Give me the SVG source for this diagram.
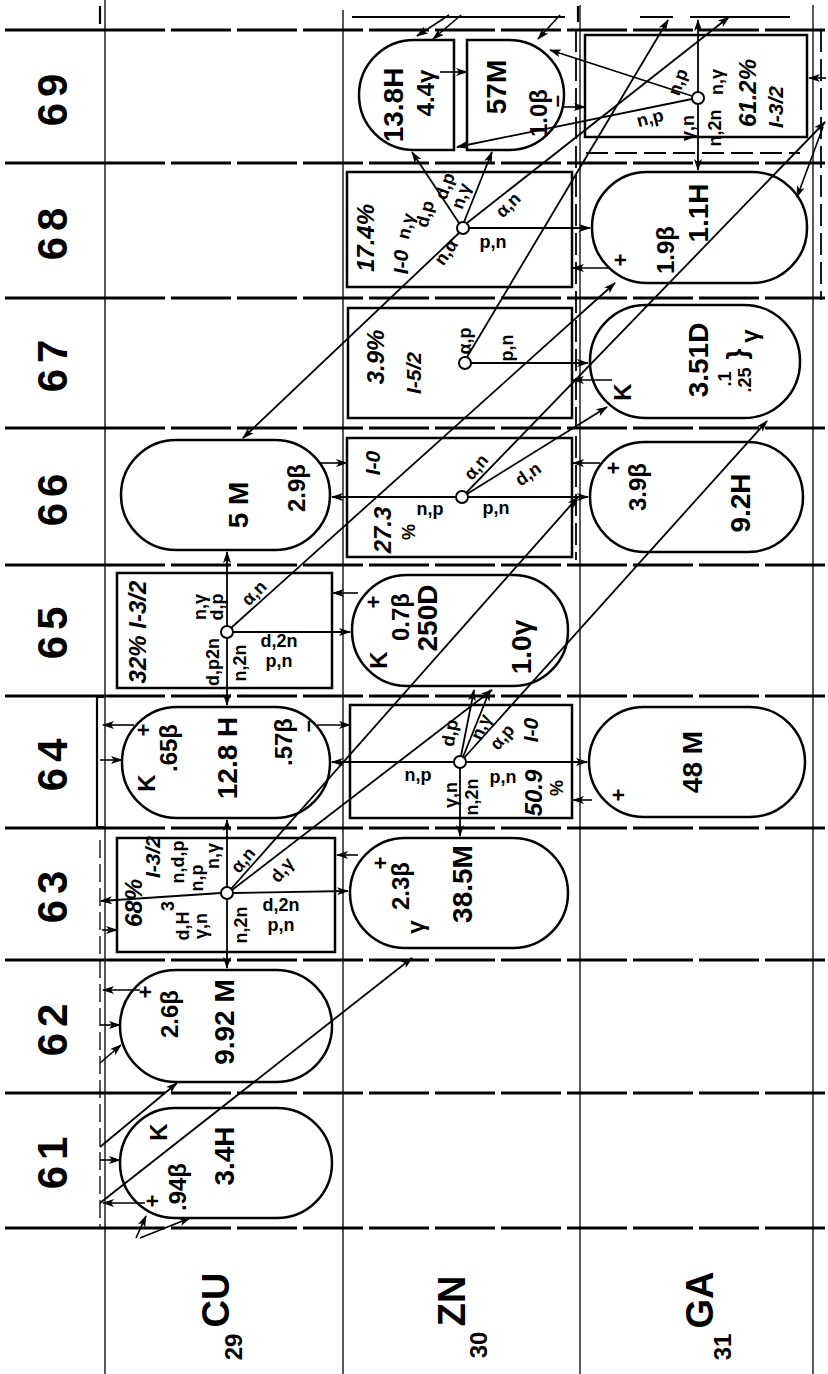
<svg xmlns="http://www.w3.org/2000/svg" width="828" height="1374" viewBox="0 0 828 1374">
<style>
text{font-family:"Liberation Sans",Arial,sans-serif;font-weight:bold;text-anchor:middle;dominant-baseline:central;fill:#000}
.m{font-size:42px;letter-spacing:6px}
.e{font-size:38px}
.z{font-size:24px}
.h{font-size:28px}
.b{font-size:24px}
.i{font-size:24px;font-style:italic}
.ii{font-size:21px;font-style:italic}
.r{font-size:18px}
.p{font-size:22px}
.row{stroke:#000;stroke-width:3;fill:none}
.rowd{stroke:#000;stroke-width:3;fill:none;stroke-dasharray:60 6}
.col{stroke:#000;stroke-width:1.3;fill:none}
.nuc{fill:none;stroke:#000;stroke-width:2.5}
.box{fill:none;stroke:#000;stroke-width:2.5}
.con{fill:none;stroke:#000;stroke-width:1.8;marker-end:url(#ah)}
.dec{fill:none;stroke:#000;stroke-width:1.6;marker-end:url(#ah)}
.pt{fill:#fff;stroke:#000;stroke-width:2}
.ln{fill:none;stroke:#000;stroke-width:2.2}
.dl{fill:none;stroke:#000;stroke-width:1.8;stroke-dasharray:22 7}
</style>
<defs>
<marker id="ah" viewBox="0 0 12 8" refX="11" refY="4" markerWidth="12" markerHeight="8" markerUnits="userSpaceOnUse" orient="auto"><path d="M0,0 L12,4 L0,8 L3,4 z" fill="#000"/></marker>
</defs>
<rect width="828" height="1374" fill="#fff"/>

<g id="grid">
<line class="col" x1="105" y1="0" x2="105" y2="1374"/>
<line class="col" x1="343" y1="10" x2="343" y2="1374"/>
<line class="col" x1="580" y1="5" x2="580" y2="1374"/>
<line class="col" x1="813" y1="5" x2="813" y2="1374"/>
<path class="row" d="M5,30H105M5,163H105M5,298H105M5,428H105M5,565H105M5,696H105M5,828H105M5,960H105M5,1093H105M5,1228H105"/>
<path class="rowd" d="M105,30H828M105,163H828M105,298H828M105,428H828M105,565H828M105,696H828M105,828H828M105,960H828M105,1093H828M105,1228H828"/>
<line class="col" x1="100" y1="840" x2="100" y2="1228" stroke-dasharray="18 6"/>
<path class="dl" d="M576,30V560M821,30V300M586,153H800"/>
<path class="ln" d="M104,697H97V827H104"/>
<path class="ln" d="M352,17H565M578,6V22M100,6V24M640,17H673M690,17H790"/>
</g>

<g id="labels">
<text class="m" x="52" y="97" transform="rotate(-90 52 97)">69</text>
<text class="m" x="52" y="231" transform="rotate(-90 52 231)">68</text>
<text class="m" x="52" y="363" transform="rotate(-90 52 363)">67</text>
<text class="m" x="52" y="497" transform="rotate(-90 52 497)">66</text>
<text class="m" x="52" y="630" transform="rotate(-90 52 630)">65</text>
<text class="m" x="52" y="762" transform="rotate(-90 52 762)">64</text>
<text class="m" x="52" y="894" transform="rotate(-90 52 894)">63</text>
<text class="m" x="52" y="1027" transform="rotate(-90 52 1027)">62</text>
<text class="m" x="52" y="1160" transform="rotate(-90 52 1160)">61</text>
<text class="e" x="216" y="1300" transform="rotate(-90 216 1300)">CU</text>
<text class="z" x="233" y="1347" transform="rotate(-90 233 1347)">29</text>
<text class="e" x="452" y="1301" transform="rotate(-90 452 1301)">ZN</text>
<text class="z" x="478" y="1345" transform="rotate(-90 478 1345)">30</text>
<text class="e" x="700" y="1300" transform="rotate(-90 700 1300)">GA</text>
<text class="z" x="722" y="1347" transform="rotate(-90 722 1347)">31</text>
</g>

<g id="connectors">
<line class="con" x1="227" y1="887" x2="227" y2="820"/>
<line class="con" x1="227" y1="899" x2="227" y2="968"/>
<line class="con" x1="221" y1="893" x2="101" y2="901"/>
<line class="con" x1="233" y1="893" x2="348" y2="891"/>
<line class="con" x1="231" y1="889" x2="578" y2="497"/>
<line class="con" x1="232" y1="890" x2="492" y2="690"/>
<line class="con" x1="227" y1="626" x2="227" y2="552"/>
<line class="con" x1="227" y1="638" x2="227" y2="705"/>
<line class="con" x1="233" y1="632" x2="350" y2="632"/>
<line class="con" x1="231" y1="628" x2="615" y2="283"/>
<line class="con" x1="454" y1="762" x2="332" y2="762"/>
<line class="con" x1="466" y1="762" x2="587" y2="762"/>
<line class="con" x1="460" y1="768" x2="460" y2="836"/>
<line class="con" x1="461" y1="756" x2="474" y2="690"/>
<line class="con" x1="463" y1="757" x2="490" y2="690"/>
<line class="con" x1="464" y1="758" x2="767" y2="421"/>
<line class="con" x1="456" y1="497" x2="332" y2="497"/>
<line class="con" x1="468" y1="497" x2="588" y2="497"/>
<line class="con" x1="466" y1="493" x2="825" y2="122"/>
<line class="con" x1="467" y1="494" x2="607" y2="407"/>
<line class="con" x1="471" y1="363" x2="588" y2="363"/>
<line class="con" x1="467" y1="357" x2="668" y2="20"/>
<line class="con" x1="469" y1="228" x2="590" y2="228"/>
<line class="con" x1="459" y1="223" x2="412" y2="152"/>
<line class="con" x1="464" y1="222" x2="492" y2="152"/>
<line class="con" x1="467" y1="223" x2="729" y2="17"/>
<line class="con" x1="459" y1="233" x2="243" y2="438"/>
<line class="con" x1="698" y1="92" x2="698" y2="20"/>
<line class="con" x1="698" y1="104" x2="698" y2="170"/>
<line class="con" x1="692" y1="96" x2="550" y2="50"/>
<line class="con" x1="692" y1="99" x2="457" y2="147"/>
<line class="dec" x1="440" y1="72" x2="467" y2="72"/>
<line class="dec" x1="562" y1="107" x2="585" y2="107"/>
<line class="dec" x1="608" y1="268" x2="573" y2="268"/>
<line class="dec" x1="612" y1="380" x2="573" y2="380"/>
<line class="dec" x1="600" y1="463" x2="573" y2="463"/>
<line class="dec" x1="358" y1="593" x2="333" y2="593"/>
<line class="dec" x1="320" y1="463" x2="347" y2="463"/>
<line class="dec" x1="317" y1="725" x2="350" y2="725"/>
<line class="dec" x1="134" y1="725" x2="103" y2="725"/>
<line class="dec" x1="100" y1="760" x2="122" y2="760"/>
<line class="dec" x1="358" y1="855" x2="337" y2="855"/>
<line class="dec" x1="592" y1="800" x2="573" y2="800"/>
<line class="dec" x1="102" y1="930" x2="117" y2="930"/>
<line class="dec" x1="140" y1="990" x2="103" y2="990"/>
<line class="dec" x1="100" y1="1025" x2="120" y2="1025"/>
<line class="dec" x1="100" y1="1160" x2="120" y2="1160"/>
<line class="dec" x1="145" y1="1203" x2="103" y2="1203"/>
<line class="dec" x1="823" y1="127" x2="797" y2="197"/>
<line class="dec" x1="826" y1="78" x2="809" y2="78"/>
<line class="dec" x1="449" y1="15" x2="417" y2="36"/>
<line class="dec" x1="461" y1="15" x2="433" y2="39"/>
<line class="dec" x1="560" y1="15" x2="538" y2="39"/>
<line class="con" x1="100" y1="1203" x2="412" y2="958"/>
<line class="con" x1="100" y1="1147" x2="177" y2="1083"/>
<line class="dec" x1="136" y1="1238" x2="146" y2="1216"/>
<line class="dec" x1="140" y1="1238" x2="190" y2="1218"/>
<line class="dec" x1="100" y1="1063" x2="121" y2="1045"/>
</g>

<g id="Cu61">
<rect class="nuc" x="120" y="1108" width="212" height="110" rx="55"/>
<text class="b" x="158" y="1132" transform="rotate(-90 158 1132)">K</text>
<text class="h" x="224" y="1156" transform="rotate(-90 224 1156)">3.4H</text>
<text class="b" x="177" y="1187" transform="rotate(-90 177 1187)">.94β</text>
<text class="p" x="152" y="1201" transform="rotate(-90 152 1201)">+</text>
</g>
<g id="Cu62">
<rect class="nuc" x="120" y="970" width="212" height="112" rx="56"/>
<text class="p" x="145" y="992" transform="rotate(-90 145 992)">+</text>
<text class="b" x="169" y="1014" transform="rotate(-90 169 1014)">2.6β</text>
<text class="h" x="224" y="1022" transform="rotate(-90 224 1022)">9.92 M</text>
</g>
<g id="Cu63">
<rect class="box" x="117" y="838" width="218" height="114"/>
<text class="i" x="133" y="903" transform="rotate(-90 133 903)">68%</text>
<text class="ii" x="152" y="857" transform="rotate(-90 152 857)">I-3/2</text>
<text class="r" x="178" y="862" transform="rotate(-90 178 862)">n,d,p</text>
<text class="r" x="197" y="878" transform="rotate(-90 197 878)">n,p</text>
<text class="r" x="213" y="856" transform="rotate(-90 213 856)">n,γ</text>
<text class="r" x="243" y="860" transform="rotate(-50 243 860)">α,n</text>
<text class="r" x="282" y="870" transform="rotate(-50 282 870)">d,γ</text>
<text class="r" x="281" y="905">d,2n</text>
<text class="r" x="281" y="925">p,n</text>
<text class="r" x="183" y="926" transform="rotate(-90 183 926)">d,H</text>
<text class="r" x="168" y="906" transform="rotate(-90 168 906)">3</text>
<text class="r" x="201" y="926" transform="rotate(-90 201 926)">γ,n</text>
<text class="r" x="241" y="925" transform="rotate(-90 241 925)">n,2n</text>
<circle class="pt" cx="227" cy="893" r="6"/>
</g>
<g id="Cu64">
<rect class="nuc" x="122" y="707" width="208" height="111" rx="55"/>
<text class="p" x="143" y="730" transform="rotate(-90 143 730)">+</text>
<text class="b" x="168" y="748" transform="rotate(-90 168 748)">.65β</text>
<text class="b" x="146" y="783" transform="rotate(-90 146 783)">K</text>
<text class="h" x="227" y="758" transform="rotate(-90 227 758)">12.8 H</text>
<text class="b" x="283" y="742" transform="rotate(-90 283 742)">.57β</text>
<text class="p" x="307" y="726" transform="rotate(-90 307 726)">–</text>
</g>
<g id="Cu65">
<rect class="box" x="117" y="573" width="215" height="115"/>
<text class="i" x="137" y="632" transform="rotate(-90 137 632)">32% I-3/2</text>
<text class="r" x="200" y="607" transform="rotate(-90 200 607)">n,γ</text>
<text class="r" x="217" y="607" transform="rotate(-90 217 607)">d,p</text>
<text class="r" x="254" y="593" transform="rotate(-45 254 593)">α,n</text>
<text class="r" x="213" y="662" transform="rotate(-90 213 662)">d,p2n</text>
<text class="r" x="240" y="663" transform="rotate(-90 240 663)">n,2n</text>
<text class="r" x="279" y="641">d,2n</text>
<text class="r" x="279" y="661">p,n</text>
<circle class="pt" cx="227" cy="632" r="6"/>
</g>
<g id="Cu66">
<rect class="nuc" x="121" y="440" width="209" height="110" rx="55"/>
<text class="h" x="238" y="505" transform="rotate(-90 238 505)">5 M</text>
<text class="b" x="296" y="488" transform="rotate(-90 296 488)">2.9β</text>
</g>
<g id="Zn63">
<rect class="nuc" x="350" y="838" width="218" height="110" rx="55"/>
<text class="p" x="380" y="863" transform="rotate(-90 380 863)">+</text>
<text class="b" x="400" y="886" transform="rotate(-90 400 886)">2.3β</text>
<text class="b" x="415" y="927" transform="rotate(-90 415 927)">γ</text>
<text class="h" x="462" y="884" transform="rotate(-90 462 884)">38.5M</text>
</g>
<g id="Zn64">
<rect class="box" x="350" y="705" width="222" height="113"/>
<text class="ii" x="530" y="730" transform="rotate(-90 530 730)">I-0</text>
<text class="i" x="533" y="793" transform="rotate(-90 533 793)">50.9</text>
<text class="r" x="557" y="788" transform="rotate(-90 557 788)">%</text>
<text class="r" x="418" y="775">n,p</text>
<text class="r" x="503" y="777">p,n</text>
<text class="r" x="451" y="795" transform="rotate(-90 451 795)">γ,n</text>
<text class="r" x="472" y="797" transform="rotate(-90 472 797)">n,2n</text>
<text class="r" x="450" y="733" transform="rotate(-80 450 733)">d,p</text>
<text class="r" x="481" y="727" transform="rotate(-65 481 727)">n,γ</text>
<text class="r" x="502" y="737" transform="rotate(-50 502 737)">α,p</text>
<circle class="pt" cx="460" cy="762" r="6"/>
</g>
<g id="Zn65">
<rect class="nuc" x="352" y="575" width="216" height="111" rx="55"/>
<text class="p" x="373" y="602" transform="rotate(-90 373 602)">+</text>
<text class="b" x="400" y="617" transform="rotate(-90 400 617)">0.7β</text>
<text class="b" x="378" y="660" transform="rotate(-90 378 660)">K</text>
<text class="h" x="427" y="618" transform="rotate(-90 427 618)">250D</text>
<text class="h" x="521" y="647" transform="rotate(-90 521 647)">1.0γ</text>
</g>
<g id="Zn66">
<rect class="box" x="347" y="438" width="225" height="119"/>
<text class="ii" x="372" y="463" transform="rotate(-90 372 463)">I-0</text>
<text class="i" x="382" y="530" transform="rotate(-90 382 530)">27.3</text>
<text class="r" x="409" y="532" transform="rotate(-90 409 532)">%</text>
<text class="r" x="430" y="509">n,p</text>
<text class="r" x="496" y="508">p,n</text>
<text class="r" x="476" y="467" transform="rotate(-50 476 467)">α,n</text>
<text class="r" x="528" y="474" transform="rotate(-35 528 474)">d,n</text>
<circle class="pt" cx="462" cy="497" r="6"/>
</g>
<g id="Zn67">
<rect class="box" x="348" y="308" width="224" height="110"/>
<text class="i" x="375" y="357" transform="rotate(-90 375 357)">3.9%</text>
<text class="ii" x="413" y="373" transform="rotate(-90 413 373)">I-5/2</text>
<text class="r" x="465" y="341" transform="rotate(-90 465 341)">α,p</text>
<text class="r" x="507" y="348" transform="rotate(-90 507 348)">p,n</text>
<circle class="pt" cx="465" cy="363" r="6"/>
</g>
<g id="Zn68">
<rect class="box" x="347" y="172" width="225" height="115"/>
<text class="i" x="365" y="238" transform="rotate(-90 365 238)">17.4%</text>
<text class="ii" x="400" y="262" transform="rotate(-90 400 262)">I-0</text>
<text class="r" x="446" y="252" transform="rotate(-55 446 252)">n,α</text>
<text class="r" x="493" y="242">p,n</text>
<text class="r" x="508" y="205" transform="rotate(-45 508 205)">α,n</text>
<text class="r" x="406" y="226" transform="rotate(-75 406 226)">n,γ</text>
<text class="r" x="425" y="214" transform="rotate(-75 425 214)">d,p</text>
<text class="r" x="445" y="186" transform="rotate(-70 445 186)">d,p</text>
<text class="r" x="461" y="196" transform="rotate(-70 461 196)">n,γ</text>
<circle class="pt" cx="463" cy="228" r="6"/>
</g>
<g id="Zn69m">
<path class="nuc" d="M454,40H414A55,55 0 0 0 414,150H454Z"/>
<text class="h" x="393" y="105" transform="rotate(-90 393 105)">13.8H</text>
<text class="b" x="425" y="93" transform="rotate(-90 425 93)">4.4γ</text>
</g>
<g id="Zn69">
<path class="nuc" d="M467,40H509A55,55 0 0 1 509,150H467Z"/>
<text class="h" x="496" y="87" transform="rotate(-90 496 87)">57M</text>
<text class="b" x="538" y="113" transform="rotate(-90 538 113)">1.0β</text>
<text class="p" x="556" y="101" transform="rotate(-90 556 101)">–</text>
</g>
<g id="Ga64">
<rect class="nuc" x="589" y="707" width="216" height="110" rx="55"/>
<text class="h" x="692" y="762" transform="rotate(-90 692 762)">48 M</text>
<text class="p" x="618" y="795" transform="rotate(-90 618 795)">+</text>
</g>
<g id="Ga66">
<rect class="nuc" x="590" y="442" width="213" height="110" rx="55"/>
<text class="p" x="613" y="468" transform="rotate(-90 613 468)">+</text>
<text class="b" x="637" y="487" transform="rotate(-90 637 487)">3.9β</text>
<text class="h" x="740" y="503" transform="rotate(-90 740 503)">9.2H</text>
</g>
<g id="Ga67">
<rect class="nuc" x="590" y="305" width="210" height="113" rx="56"/>
<text class="b" x="622" y="392" transform="rotate(-90 622 392)">K</text>
<text class="h" x="698" y="360" transform="rotate(-90 698 360)">3.51D</text>
<text class="r" x="725" y="379" transform="rotate(-90 725 379)">.1</text>
<text class="r" x="745" y="380" transform="rotate(-90 745 380)">.25</text>
<text class="h" x="736" y="354" transform="rotate(-90 736 354)">}</text>
<text class="b" x="749" y="336" transform="rotate(-90 749 336)">γ</text>
</g>
<g id="Ga68">
<rect class="nuc" x="592" y="172" width="215" height="111" rx="55"/>
<text class="p" x="620" y="260" transform="rotate(-90 620 260)">+</text>
<text class="b" x="665" y="250" transform="rotate(-90 665 250)">1.9β</text>
<text class="h" x="698" y="213" transform="rotate(-90 698 213)">1.1H</text>
</g>
<g id="Ga69">
<rect class="box" x="585" y="35" width="222" height="102"/>
<text class="i" x="747" y="93" transform="rotate(-90 747 93)">61.2%</text>
<text class="ii" x="775" y="107" transform="rotate(-90 775 107)">I-3/2</text>
<text class="r" x="678" y="82" transform="rotate(-70 678 82)">n,p</text>
<text class="r" x="717" y="82" transform="rotate(-90 717 82)">n,γ</text>
<text class="r" x="650" y="118" transform="rotate(-15 650 118)">n,p</text>
<text class="r" x="688" y="128" transform="rotate(-90 688 128)">γ,n</text>
<text class="r" x="715" y="128" transform="rotate(-90 715 128)">n,2n</text>
<circle class="pt" cx="698" cy="98" r="6"/>
</g>
</svg>
